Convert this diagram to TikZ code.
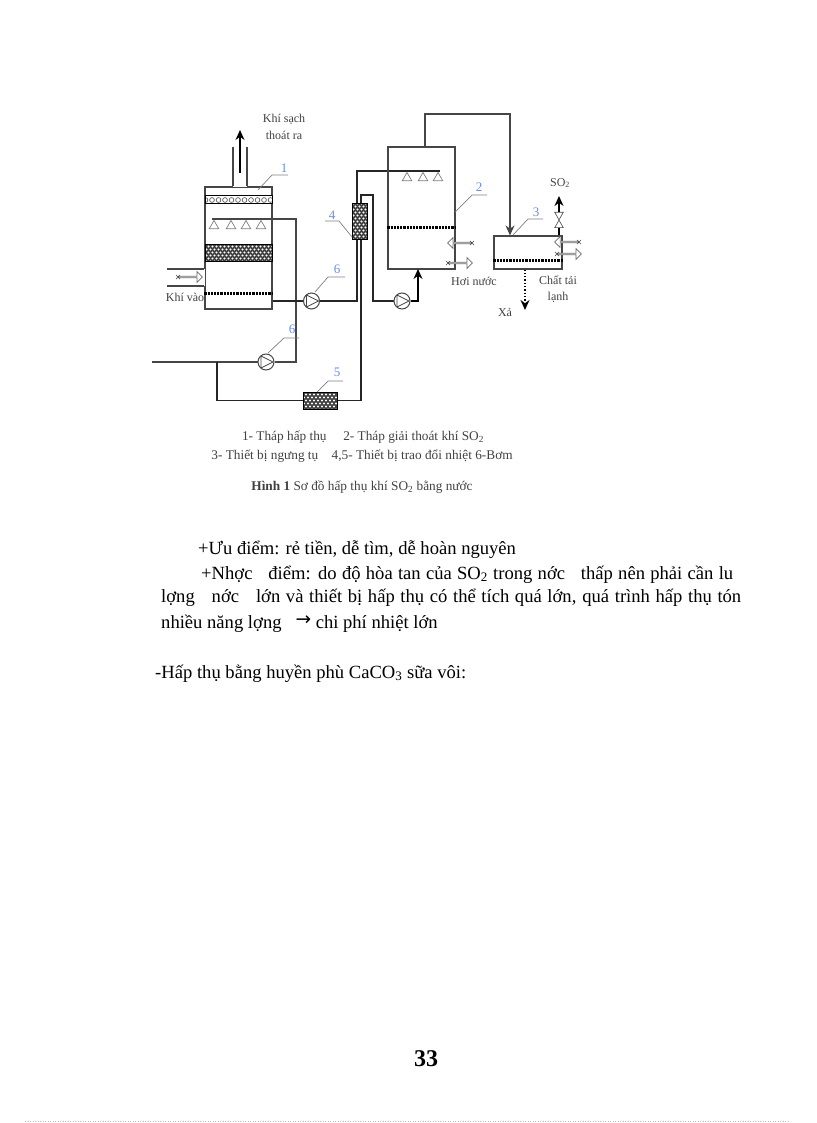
\documentclass[tikz,border=0pt]{standalone}
\usepackage{fontspec}
\setmainfont{Liberation Serif}
\newfontfamily\arrowfont{DejaVu Sans}
\usetikzlibrary{positioning,arrows.meta,shapes.geometric,shapes.arrows,shapes.misc,backgrounds,calc}
\definecolor{LineGray}{RGB}{70,70,70}
\definecolor{TextGray}{RGB}{65,65,65}
\definecolor{TagBlue}{RGB}{105,140,235}
\begin{document}
\begin{tikzpicture}[
      x=1pt, y=-1pt,
      every node/.style={inner sep=0pt, align=center},
      vessel/.style  ={draw=LineGray, line width=1.1pt, rectangle},
      pump/.style    ={circle, draw=LineGray, line width=1pt, fill=white, minimum size=16pt,
                       path picture={\draw[LineGray, line width=0.8pt]
                         ([shift={(-5,-6)}]path picture bounding box.center) --
                         ([shift={(7,0)}]path picture bounding box.center) --
                         ([shift={(-5,6)}]path picture bounding box.center) -- cycle;}},
      mesh/.style    ={rectangle, draw=black, line width=1pt, fill=black!75,
                       path picture={\foreach \j [count=\n] in {-18,-15,...,18} {
                         \foreach \i in {-36,-32,...,36} {
                           \fill[white] ([shift={({\i+2*mod(\n,2)},\j)}]path picture bounding box.center) circle (1.2);
                         }}}},
      beads/.style   ={rectangle, draw=black, line width=1pt, fill=white,
                       path picture={\foreach \i in {-33,-26.5,...,33} {
                         \draw[LineGray, line width=0.6pt] ([shift={(\i,0)}]path picture bounding box.center) circle (2.4);
                         }}},
      plate/.style   ={line width=3pt, black, dash pattern=on 2.2pt off 1pt},
      nozzle/.style  ={regular polygon, regular polygon sides=3, draw=LineGray!70, line width=0.7pt,
                       fill=white, minimum size=11pt},
      hollow/.style  ={single arrow, draw=LineGray!80, line width=0.7pt, fill=white, minimum height=24pt,
                       minimum width=11pt, single arrow head extend=2pt, single arrow tip angle=90},
      tailx/.style   ={cross out, draw=LineGray, line width=0.6pt, minimum size=3.5pt},
      pipe/.style    ={line width=1.2pt, LineGray},
      pipeb/.style   ={line width=1.5pt, black!85},
      arr/.style     ={-{Stealth[length=10pt,width=9pt]}, line width=1.3pt, black},
      lead/.style    ={line width=0.7pt, gray},
      lbl/.style     ={font=\fontsize{12}{12}\selectfont, text=TextGray},
      captext/.style ={font=\fontsize{13.3}{14}\selectfont, text=TextGray},
      tag/.style     ={font=\fontsize{13}{13}\selectfont, text=TagBlue},
      body/.style    ={font=\fontsize{18.6}{20}\selectfont, anchor=base west},
  ]
  \useasboundingbox (0,0) rectangle (816,1123);

  % ─ Absorber (tower 1) ─
  \node[vessel, minimum width=67pt, minimum height=122pt]  (abs)   at (238.5,248) {};
  \node[beads, minimum width=67pt, minimum height=8pt]     (packa) at (238.5,200) {};
  \node[mesh, minimum width=67pt, minimum height=17pt]     (packb) at (238.5,252.5) {};
  \coordinate (stackl) at (233,147);
  \coordinate (stackr) at (247,147);
  \coordinate (stackt) at (240,173);
  \coordinate (stackh) at (240,130);
  \coordinate (plabs)  at (0,293);
  \draw[white, line width=2pt] (stackl |- abs.north) -- (stackr |- abs.north);
  \draw[vessel] (stackl) -- (stackl |- abs.north);
  \draw[vessel] (stackr) -- (stackr |- abs.north);
  \draw[arr] (stackt) -- (stackh);
  \draw[plate] (abs.west |- plabs) -- (abs.east |- plabs);

  % ─ Gas inlet ─
  \coordinate (inla) at (167,269);
  \coordinate (inlb) at (167,286);
  \draw[white, line width=2pt] (abs.west |- inla) -- (abs.west |- inlb);
  \draw[vessel] (inla) -- (abs.west |- inla);
  \draw[vessel] (inlb) -- (abs.west |- inlb);
  \node[hollow]                   (inarr) at (190,277) {};
  \node[tailx]                    (inx)   at (inarr.tail) {};

  % ─ Stripper (tower 2) ─
  \node[vessel, minimum width=67pt, minimum height=122pt]  (strip) at (421.5,208) {};
  \coordinate (plstr) at (0,228);
  \draw[plate] (strip.west |- plstr) -- (strip.east |- plstr);
  \node[hollow, shape border rotate=180] (sa) at (460,243) {};
  \node[tailx]                           (sax) at (sa.tail) {};
  \node[hollow]                          (sb) at (460,263) {};
  \node[tailx]                           (sbx) at (sb.tail) {};

  % ─ Condenser (3) ─
  \node[vessel, minimum width=68pt, minimum height=33pt]   (cond)  at (528,252.5) {};
  \coordinate (plcon) at (0,260);
  \draw[plate] (cond.west |- plcon) -- (cond.east |- plcon);
  \node[hollow, shape border rotate=180] (ca) at (567,242) {};
  \node[tailx]                           (cax) at (ca.tail) {};
  \node[hollow]                          (cb) at (569,254) {};
  \node[tailx]                           (cbx) at (cb.tail) {};

  % ─ Exchangers and pumps ─
  \node[mesh, minimum width=15pt, minimum height=35pt]     (hxa)   at (359.5,221.5) {};
  \node[mesh, minimum width=34pt, minimum height=17pt]     (hxb)   at (320,400.5) {};
  \node[pump]                                              (puma)  at (311.5,301) {};
  \node[pump]                                              (pumb)  at (402,301) {};
  \node[pump]                                              (pumc)  at (266,362) {};

  % ─ Spray headers ─
  \coordinate (heada) at (212,219);
  \coordinate (headb) at (440,171);
  \foreach \i/\x in {1/214,2/231,3/246,4/261} {
    \node[nozzle] (noza\i) at (\x,226) {};
  }
  \foreach \i/\x in {1/407,2/423,3/438} {
    \node[nozzle] (nozb\i) at (\x,178) {};
  }

  % ─ Pipes ─
  \coordinate (absout) at (abs.east |- puma);
  \coordinate (rica)   at (357,171);
  \coordinate (ricb)   at (296,219);
  \coordinate (feed)   at (152,362);
  \coordinate (brch)   at (217,362);
  \coordinate (lean)   at (361,195);
  \coordinate (leanr)  at (373,195);
  \coordinate (vapt)   at (425,114);
  \coordinate (vapr)   at (510,114);
  \coordinate (retn)   at (418,269);
  \begin{scope}[on background layer]
    \draw[pipe]  (heada) -- (ricb) -- (ricb |- pumc) -- (pumc);
    \draw[pipe]  (feed) -- (pumc);
    \draw[pipeb] (absout) -- (puma);
    \draw[pipeb] (puma) -- (rica |- puma) -- (rica) -- (headb);
    \draw[pipeb] (brch) -- (brch |- hxb) -- (hxb);
    \draw[pipeb] (hxb) -- (lean |- hxb) -- (lean) -- (leanr) -- (leanr |- pumb) -- (pumb);
  \end{scope}
  \draw[arr]  (pumb) -| (retn);
  \draw[pipe, -{Stealth[length=10pt,width=9pt]}] (strip.north -| vapt) -- (vapt) -- (vapr) -- (vapr |- cond.north);

  % ─ Condenser outlets ─
  \coordinate (soh) at (559,196);
  \coordinate (xah) at (525,310);
  \node[regular polygon, regular polygon sides=3, shape border rotate=180, draw=LineGray, fill=white,
        line width=0.6pt, minimum size=10pt, anchor=north] (vala) at (559,212) {};
  \node[regular polygon, regular polygon sides=3, draw=LineGray, fill=white,
        line width=0.6pt, minimum size=10pt, anchor=south] (valb) at (559,228) {};
  \draw[arr] (vala.north) -- (soh);
  \draw[line width=1.2pt, black] (valb.south) -- (valb.south |- cond.north);
  \draw[arr, dotted] (cond.south -| xah) -- (xah);

  % ─ Number tags with leaders ─
  \node[tag] (tagone)   at (284,168) {1};
  \node[tag] (tagtwo)   at (479,187) {2};
  \node[tag] (tagthree) at (536,212) {3};
  \node[tag] (tagfour)  at (332,215) {4};
  \node[tag] (tagfive)  at (337,372) {5};
  \node[tag] (tagsix)   at (337,269) {6};
  \node[tag] (tagsixb)  at (292,329) {6};
  \draw[lead] (288,175) -- (272,175) -- (258,190);
  \draw[lead] (487,195) -- (472,195) -- (455,212);
  \draw[lead] (543,219) -- (528,219) -- (513,235);
  \draw[lead] (325,221) -- (339,221) -- (352,237);
  \draw[lead] (343,381) -- (328,381) -- (317,392);
  \draw[lead] (345,277) -- (328,277) -- (315,292);
  \draw[lead] (299,338) -- (284,338) -- (268,353);

  % ─ Stream labels ─
  \node[lbl] (lclean) at (284,127) {Khí sạch\\[5pt]thoát ra};
  \node[lbl] (lin)    at (185,297) {Khí vào};
  \node[lbl] (lso)    at (560,183) {SO\textsubscript{2}};
  \node[lbl] (lsteam) at (474,281) {Hơi nước};
  \node[lbl] (lcool)  at (558,289) {Chất tải\\[4pt]lạnh};
  \node[lbl] (lxa)    at (505,313) {Xả};

  % ─ Caption ─
  \node[captext] (capa) at (363,437) {1- Tháp hấp thụ\quad\ 2- Tháp giải thoát khí SO\textsubscript{2}};
  \node[captext] (capb) at (362,456) {3- Thiết bị ngưng tụ\quad 4,5- Thiết bị trao đổi nhiệt 6-Bơm};
  \node[captext] (capc) at (362,487) {\textbf{Hình 1} Sơ đồ hấp thụ khí SO\textsubscript{2} bằng nước};

  % ─ Body text ─
  \node[body] (bodya) at (198,554) {+Ưu điểm: rẻ tiền, dễ tìm, dễ hoàn nguyên};
  \node[body] (bodyb) at (201,579) {\makebox[532pt][s]{+Nhợc\ \ \ điểm: do độ hòa tan của SO\textsubscript{2} trong nớc\ \ \ thấp nên phải cần lu}};
  \node[body] (bodyc) at (161,602) {\makebox[580pt][s]{lợng\ \ \ nớc\ \ \ lớn và thiết bị hấp thụ có thể tích quá lớn, quá trình hấp thụ tón}};
  \node[body] (bodyd) at (161,628) {nhiều năng lợng\ \ \ \raisebox{3pt}{\arrowfont→} chi phí nhiệt lớn};
  \node[body] (bodye) at (155,678) {-Hấp thụ bằng huyền phù CaCO\textsubscript{3} sữa vôi:};

  % ─ Page number and foot rule ─
  \node[font=\bfseries\fontsize{24}{24}\selectfont] (pageno) at (426,1059) {33};
  \coordinate (footl) at (25,1121);
  \coordinate (footr) at (790,1121);
  \draw[gray!50, line width=0.5pt, dotted] (footl) -- (footr);
\end{tikzpicture}
\end{document}
